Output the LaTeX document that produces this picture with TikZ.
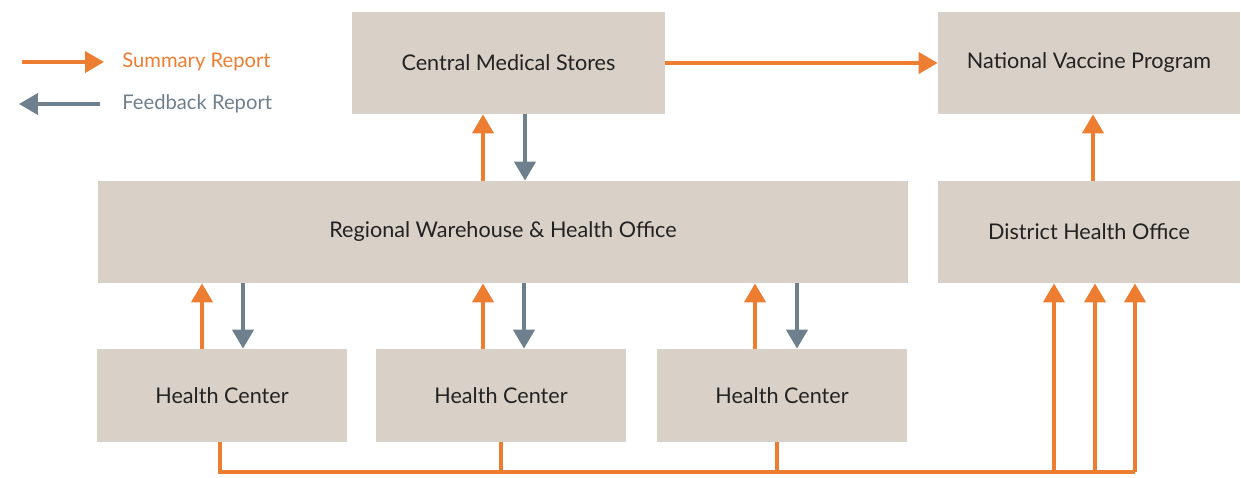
\documentclass[tikz,border=0pt]{standalone}
\usepackage{fontspec}
\setmainfont{Lato}
\usepackage{xcolor}
\usepackage{tikz}
\usetikzlibrary{arrows.meta, calc}

\definecolor{boxfill}{HTML}{D9D1C7}
\definecolor{sumorange}{HTML}{ED7D31}
\definecolor{fbgray}{HTML}{6E7F8D}
\definecolor{boxtext}{HTML}{222222}

\begin{document}
\begin{tikzpicture}[x=0.02cm, y=-0.02cm,
    box/.style={fill=boxfill, inner sep=0pt, minimum height=2.04cm, text=boxtext, font=\fontsize{12.3}{14}\selectfont},
    sumline/.style={sumorange, line width=0.08cm},
    sumarr/.style={sumline, -{Triangle[width=0.42cm, length=0.38cm]}},
    fbarr/.style={fbgray, line width=0.08cm, -{Triangle[width=0.42cm, length=0.38cm]}},
    legtext/.style={right, inner sep=0pt, font=\fontsize{11.5}{13}\selectfont}]
    \useasboundingbox (0,0) rectangle (1241,477);

    % boxes
    \node[box, minimum width=6.26cm] (cms) at (508.5,63) {Central Medical Stores};
    \node[box, minimum width=6.04cm] (nvp) at (1089,63) {National Vaccine Program};
    \node[box, minimum width=16.2cm] (rwho) at (503,232) {Regional Warehouse \& Health Office};
    \node[box, minimum width=6.04cm] (dho) at (1089,232) {District Health Office};
    \node[box, minimum width=5cm, minimum height=1.86cm] (hc1) at (222,395.5) {Health Center};
    \node[box, minimum width=5cm, minimum height=1.86cm] (hc2) at (501,395.5) {Health Center};
    \node[box, minimum width=5cm, minimum height=1.86cm] (hc3) at (782,395.5) {Health Center};

    % legend
    \coordinate (sumA) at (22,62);
    \coordinate (sumB) at (104,62);
    \coordinate (fbA) at (100,104);
    \coordinate (fbB) at (19,104);
    \draw[sumarr] (sumA) -- (sumB);
    \draw[fbarr] (fbA) -- (fbB);
    \node[legtext, text=sumorange] (sumtxt) at (122,62) {Summary Report};
    \node[legtext, text=fbgray] (fbtxt) at (122,104) {Feedback Report};

    % reports up and feedback down
    \draw[sumarr] (cms.east) -- (nvp.west);
    \draw[sumarr] ([xshift=-0.4cm]rwho.north) -- ([xshift=-0.4cm]rwho.north |- cms.south);
    \draw[fbarr] ([xshift=0.44cm]rwho.north |- cms.south) -- ([xshift=0.44cm]rwho.north);
    \draw[sumarr] ([xshift=0.08cm]dho.north) -- ([xshift=0.08cm]dho.north |- nvp.south);
    \foreach \hc/\u/\d in {hc1/-0.4/0.42, hc2/-0.36/0.46, hc3/-0.54/0.3} {
        \draw[sumarr] ([xshift=\u cm]\hc.north) -- ([xshift=\u cm]\hc.north |- rwho.south);
        \draw[fbarr] ([xshift=\d cm]\hc.north |- rwho.south) -- ([xshift=\d cm]\hc.north);
    }

    % bus to district
    \coordinate (bus) at (0,472);
    \draw[sumline] ([xshift=-0.04cm]hc1.south) |- ([xshift=0.92cm]dho.south |- bus);
    \draw[sumline] (hc2.south) -- (hc2.south |- bus);
    \draw[sumline] ([xshift=-0.1cm]hc3.south) -- ([xshift=-0.1cm]hc3.south |- bus);
    \foreach \s in {-0.7, 0.12, 0.92} {
        \draw[sumarr] ([xshift=\s cm]dho.south |- bus) -- ([xshift=\s cm]dho.south);
    }
\end{tikzpicture}
\end{document}
